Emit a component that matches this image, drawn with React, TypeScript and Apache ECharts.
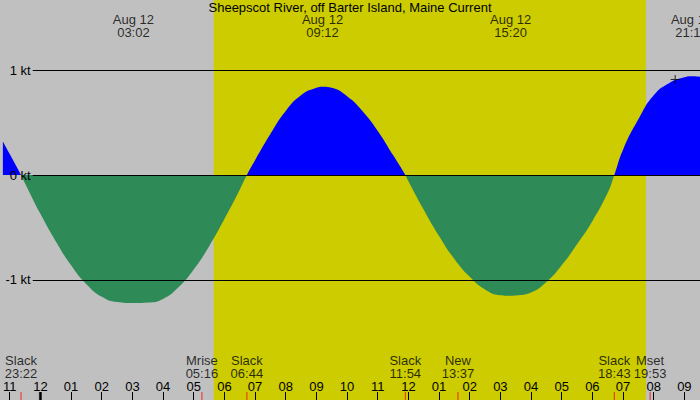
import React, { useEffect, useRef } from "react";
import * as echarts from "echarts";

const TITLE = "Sheepscot River, off Barter Island, Maine Current";
const FONT = "Liberation Sans";

// hours counted from midnight of Aug 12 (negative = Aug 11)
const currentHours = [
  -1.2244, -1, -0.633, -0.5, 0, 0.5, 1, 1.5, 2, 2.5, 3.033, 3.5, 4, 4.5, 5, 5.5, 6, 6.5, 6.733,
  7, 7.5, 8, 8.5, 9, 9.2, 9.5, 10, 10.5, 11, 11.5, 11.9, 12, 12.5, 13, 13.5, 14, 14.5, 15, 15.333,
  15.5, 16, 16.5, 17, 17.5, 18, 18.5, 18.717, 19, 19.5, 20, 20.5, 21, 21.24, 21.51,
];
const currentKnots = [
  0.32, 0.2, 0, -0.08, -0.37, -0.63, -0.86, -1.04, -1.16, -1.21, -1.22, -1.215, -1.18, -1.07, -0.9,
  -0.68, -0.42, -0.14, 0, 0.14, 0.39, 0.61, 0.76, 0.83, 0.84, 0.83, 0.75, 0.61, 0.42, 0.19, 0,
  -0.06, -0.33, -0.58, -0.8, -0.97, -1.09, -1.145, -1.15, -1.148, -1.12, -1.02, -0.86, -0.66,
  -0.44, -0.17, 0, 0.24, 0.53, 0.76, 0.875, 0.93, 0.94, 0.935,
];

// hour ticks -1 .. 21 and their labels
const hourTicks = [
  -1, 0, 1, 2, 3, 4, 5, 6, 7, 8, 9, 10, 11, 12, 13, 14, 15, 16, 17, 18, 19, 20, 21,
];
const hourLabels = [
  "11", "12", "01", "02", "03", "04", "05", "06", "07", "08", "09", "10", "11", "12",
  "01", "02", "03", "04", "05", "06", "07", "08", "09",
];

const ktLevels = [1, 0, -1];

const eventNames = ["Slack", "Mrise", "Slack", "Slack", "New", "Slack", "Mset"];
const eventClock = ["23:22", "05:16", "06:44", "11:54", "13:37", "18:43", "19:53"];
const eventDay = [-1, 0, 0, 0, 0, 0, 0];

const maxDate = "Aug 12";
const maxClock = ["03:02", "09:12", "15:20", "21:14"];

const sunrise = "05:39";
const sunset = "19:45";
const midnightHours = [0];

const plusHours = [20.7];
const plusKnots = [0.91];

const toHours = (clock: string, day = 0) => {
  const [h, m] = clock.split(":").map(Number);
  return day * 24 + h + m / 60;
};

const X_MIN = -1.2244;
const X_MAX = 21.51;
const Y_MIN = -2.1429;
const Y_MAX = 1.6667;
const LINE_START = -0.25;
// the zero line sits half a pixel low so the ebb fill hides it
const ZERO_NUDGE = -0.005;

const App: React.FC = () => {
  const chartRef = useRef<HTMLDivElement | null>(null);

  useEffect(() => {
    document.body.style.margin = "0";
    if (!chartRef.current) return;
    const chart = echarts.init(chartRef.current, undefined, { renderer: "svg" });
    const curve = currentHours.map((h, i) => [h, currentKnots[i]]);
    const txt = { fontFamily: FONT, fontSize: 13, color: "#000" };

    chart.setOption({
      animation: false,
      backgroundColor: "#c0c0c0",
      textStyle: { fontFamily: FONT },
      title: {
        text: TITLE,
        left: "center",
        top: 0,
        padding: 0,
        textStyle: { ...txt, fontWeight: "normal", lineHeight: 14 },
      },
      grid: { left: 0, right: 0, top: 0, bottom: 0 },
      xAxis: {
        type: "value",
        min: X_MIN,
        max: X_MAX,
        z: 10,
        axisLine: { show: false, onZero: false },
        splitLine: { show: false },
        axisTick: {
          inside: true,
          length: 8,
          customValues: hourTicks,
          lineStyle: { color: "#000", width: 1 },
        },
        axisLabel: {
          ...txt,
          inside: true,
          margin: 8,
          lineHeight: 12,
          customValues: hourTicks,
          formatter: (v: number) => hourLabels[hourTicks.indexOf(Math.round(v))] ?? "",
        },
      },
      yAxis: { type: "value", min: Y_MIN, max: Y_MAX, show: false },
      visualMap: [
        {
          type: "piecewise",
          show: false,
          seriesIndex: 1,
          dimension: 1,
          pieces: [
            { gte: -10, lt: 0, color: "rgba(0,0,0,0)" },
            { gte: 0, lte: 10, color: "#0000ff" },
          ],
        },
        {
          type: "piecewise",
          show: false,
          seriesIndex: 2,
          dimension: 1,
          pieces: [
            { gte: -10, lt: 0, color: "#2e8b57" },
            { gte: 0, lte: 10, color: "rgba(0,0,0,0)" },
          ],
        },
      ],
      series: [
        {
          type: "scatter",
          z: 1,
          silent: true,
          symbolSize: 0,
          data: [[toHours(sunrise), Y_MIN], [toHours(sunset), Y_MIN]],
          markArea: {
            silent: true,
            itemStyle: { color: "#cccc00" },
            data: [[{ xAxis: toHours(sunrise) }, { xAxis: toHours(sunset) }]],
          },
        },
        {
          type: "line",
          z: 2,
          smooth: true,
          symbol: "none",
          silent: true,
          data: curve,
          lineStyle: { width: 0, opacity: 0 },
          areaStyle: { opacity: 1, origin: "auto" },
          markLine: {
            silent: true,
            symbol: ["none", "none"],
            lineStyle: { color: "#000", width: 1, type: "solid" },
            label: { show: false },
            data: ktLevels.map((v) => {
              const y = v === 0 ? ZERO_NUDGE : v;
              return [{ coord: [LINE_START, y] }, { coord: [X_MAX, y] }];
            }),
          },
        },
        {
          type: "line",
          z: 3,
          smooth: true,
          symbol: "none",
          silent: true,
          data: curve,
          lineStyle: { width: 0, opacity: 0 },
          areaStyle: { opacity: 1, origin: "auto" },
          markLine: {
            silent: true,
            symbol: ["none", "none"],
            lineStyle: { color: "rgba(0,0,0,0)", width: 1 },
            label: { show: true, position: "start", distance: 2, formatter: "{b}", ...txt },
            data: ktLevels.map((v) => [
              { name: `${v} kt`, coord: [LINE_START, v] },
              { coord: [X_MAX, v] },
            ]),
          },
        },
        {
          type: "scatter",
          z: 4,
          silent: true,
          symbol: "path://M4,0h1v4h4v1h-4v4h-1v-4h-4v-1h4z",
          symbolSize: 9,
          itemStyle: { color: "#000" },
          data: plusHours.map((h, i) => [h, plusKnots[i]]),
        },
        {
          type: "scatter",
          z: 5,
          silent: true,
          clip: false,
          symbol: "rect",
          symbolSize: [1, 8],
          symbolOffset: [0, -4],
          itemStyle: { color: "#ff0000" },
          label: {
            show: true,
            position: "top",
            distance: 12,
            lineHeight: 13,
            ...txt,
            formatter: (p: any) => `${p.name}\n${p.data.clock}`,
          },
          data: eventNames.map((name, i) => ({
            name,
            clock: eventClock[i],
            value: [toHours(eventClock[i], eventDay[i]), Y_MIN],
          })),
        },
        {
          type: "scatter",
          z: 5,
          silent: true,
          clip: false,
          symbol: "rect",
          symbolSize: [3, 8],
          symbolOffset: [0, -4],
          itemStyle: { color: "#000" },
          data: midnightHours.map((h) => [h, Y_MIN]),
        },
        {
          type: "scatter",
          z: 5,
          silent: true,
          clip: false,
          symbolSize: 0,
          label: {
            show: true,
            position: "bottom",
            distance: 13,
            lineHeight: 13,
            ...txt,
            formatter: (p: any) => `${maxDate}\n${p.data.clock}`,
          },
          data: maxClock.map((clock) => ({ clock, value: [toHours(clock), Y_MAX] })),
        },
      ],
    });

    return () => {
      chart.dispose();
    };
  }, []);

  return <div ref={chartRef} style={{ width: 700, height: 400 }} />;
};

export default App;
